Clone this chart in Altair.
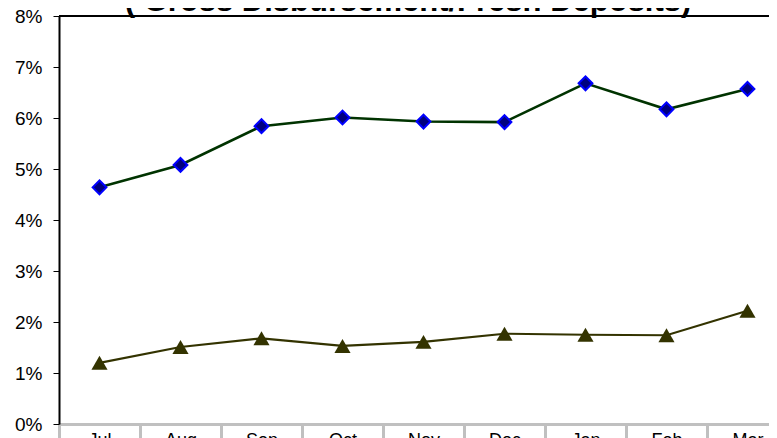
import altair as alt
import pandas as pd

months = ["Jul", "Aug", "Sep", "Oct", "Nov", "Dec", "Jan", "Feb", "Mar"]
series_a = [4.64, 5.08, 5.84, 6.01, 5.93, 5.92, 6.68, 6.17, 6.57]
series_b = [1.20, 1.51, 1.68, 1.53, 1.61, 1.77, 1.75, 1.74, 2.22]
y_ticks = [0, 1, 2, 3, 4, 5, 6, 7, 8]
title_text = "( Gross Disbursement/Fresh Deposits)"

df = pd.DataFrame({
    "month": months * 2,
    "value": [v / 100 for v in series_a + series_b],
    "series": ["A"] * len(months) + ["B"] * len(months),
})

FONT = "Liberation Sans"

x_enc = alt.X(
    "month:N",
    sort=months,
    scale=alt.Scale(type="band", range=[0, 729], paddingInner=0, paddingOuter=0),
    axis=alt.Axis(
        title=None, labelAngle=0, grid=False,
        domainColor="#c0c0c0", domainWidth=3,
        tickColor="#c0c0c0", tickWidth=3, tickSize=24, tickBand="extent",
        labelPadding=-17, labelFontSize=18, labelFont=FONT, labelColor="black",
    ),
)
y_enc = alt.Y(
    "value:Q",
    scale=alt.Scale(domain=[0, 0.08]),
    axis=alt.Axis(
        title=None, format=".0%", values=[t / 100 for t in y_ticks],
        domainColor="black", domainWidth=2,
        tickColor="black", tickWidth=1, tickSize=6,
        labelPadding=11, labelFontSize=19, labelFont=FONT, labelColor="black",
        gridColor="black", gridWidth=1, gridOpacity=1,
    ),
)

base = alt.Chart(df).encode(x=x_enc, y=y_enc)

line_a = base.transform_filter(alt.datum.series == "A").mark_line(color="#003300", strokeWidth=2.6)
pts_a = base.transform_filter(alt.datum.series == "A").mark_point(
    shape="diamond", size=190, filled=True, fill="#000080", stroke="#0000ff", strokeWidth=2, opacity=1
)
line_b = base.transform_filter(alt.datum.series == "B").mark_line(color="#333300", strokeWidth=2.2)
pts_b = base.transform_filter(alt.datum.series == "B").mark_point(
    shape="triangle-up", size=260, filled=True, fill="#333300", opacity=1
)
top_rule = alt.Chart(df).mark_rule(color="black", strokeWidth=2).encode(y=alt.datum(0.08))

title_mark = alt.Chart(pd.DataFrame({"t": [title_text]})).mark_text(
    font=FONT, fontSize=31, fontWeight="bold", color="black", align="center", baseline="alphabetic"
).encode(text="t:N", x=alt.value(349), y=alt.value(-5))

chart = alt.layer(top_rule, line_a, pts_a, line_b, pts_b, title_mark).properties(
    width=710,
    height=408,
    autosize=alt.AutoSizeParams(type="none"),
    padding={"left": 51, "top": 8, "right": 0, "bottom": 14},
).configure_view(stroke=None)

chart.save("out.html", embed_options={"renderer": "svg", "actions": False})
